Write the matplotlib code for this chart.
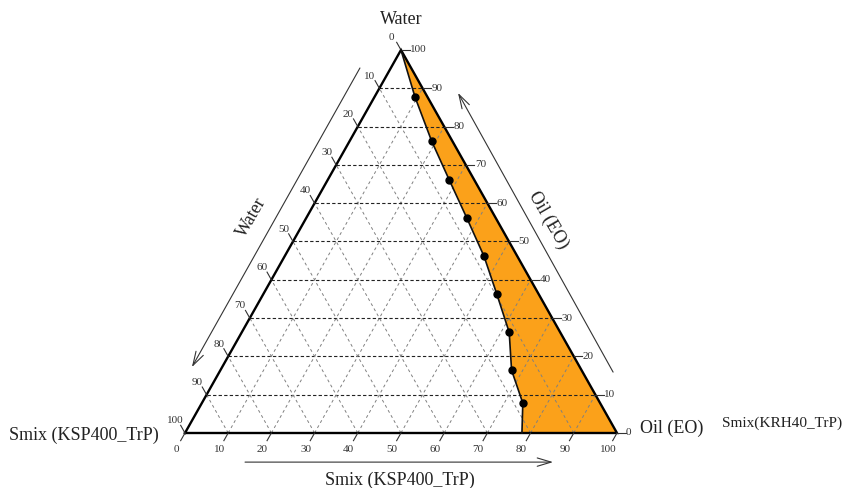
import matplotlib
matplotlib.use("Agg")
import matplotlib.pyplot as plt
import numpy as np

plt.rcParams['font.family'] = ['Liberation Serif', 'DejaVu Serif']

# phase boundary (Smix along the base, Oil on the right-hand scale)
boundary_smix = [0.0, 9.4, 19.0, 28.2, 37.2, 46.1, 54.1, 61.9, 67.4, 74.3, 78.0]
boundary_oil = [100.0, 87.7, 76.2, 66.0, 56.1, 46.2, 36.2, 26.3, 16.4, 7.8, 0.0]
ticks = list(range(0, 101, 10))

fill_color = '#FBA11A'


def cart(b, h):
    # ternary (base value, height value) -> plane coordinates
    b = np.asarray(b, dtype=float)
    h = np.asarray(h, dtype=float)
    return b + h / 2.0, h


fig = plt.figure(figsize=(8.44, 4.88), dpi=100)
ax = fig.add_axes([0, 0, 1, 1])
ax.set_xlim(-42.82, 152.55)
ax.set_ylim(-14.36, 113.05)
ax.axis('off')

# single-phase region
poly_b = boundary_smix + [100.0]
poly_h = boundary_oil + [0.0]
px, py = cart(poly_b, poly_h)
ax.fill(px, py, color=fill_color, zorder=1, lw=0)

# dashed grid
for v in ticks[1:-1]:
    x, y = cart([0, 100 - v], [v, v])
    ax.plot(x, y, color='#222222', lw=0.8, ls=(0, (3, 2)), zorder=2)
    x, y = cart([v, v], [0, 100 - v])
    ax.plot(x, y, color='#808080', lw=0.7, ls=(0, (3, 3)), zorder=2)
    x, y = cart([100 - v, 0], [0, 100 - v])
    ax.plot(x, y, color='#808080', lw=0.7, ls=(0, (3, 3)), zorder=2)

# triangle frame
x, y = cart([0, 100, 0, 0], [0, 0, 100, 0])
ax.plot(x, y, color='black', lw=1.7, zorder=4, solid_joinstyle='miter')

# boundary curve and titration points
bx, by = cart(boundary_smix, boundary_oil)
ax.plot(bx, by, color='#111111', lw=1.2, zorder=5)
ax.plot(bx[1:-1], by[1:-1], 'o', color='black', ms=5, zorder=6)

tick_kw = dict(color='#333333', lw=0.8, zorder=4)
lab_kw = dict(fontsize=8, color='#333333')
for v in ticks:
    # base ticks, along the left-side direction
    x, y = cart([v, v], [0, -2])
    ax.plot(x, y, **tick_kw)
    x, y = cart(v, -4.2)
    ax.text(x, y, str(v), ha='center', va='center', **lab_kw)
    # left ticks, along the right-side direction
    x, y = cart([0, -2], [100 - v, 100 - v + 2])
    ax.plot(x, y, **tick_kw)
    x, y = cart(-3.2, 100 - v + 3.2)
    ax.text(x - 0.6, y, str(v), ha='center', va='center', **lab_kw)
    # right ticks, horizontal
    x, y = cart([100 - v, 100 - v + 2], [v, v])
    ax.plot(x, y, **tick_kw)
    x, y = cart(100 - v + 2.1, v)
    ax.text(x, y, str(v), ha='left', va='center', **lab_kw)

arrow_kw = dict(arrowstyle='->,head_length=1.0,head_width=0.3', lw=0.8,
                color='#333333', shrinkA=0, shrinkB=0)
ax.annotate('', xy=(1.6, 17.2), xytext=(40.5, 95.3), arrowprops=arrow_kw)
ax.annotate('', xy=(63.2, 88.8), xytext=(99.1, 15.9), arrowprops=arrow_kw)
ax.annotate('', xy=(85.2, -7.6), xytext=(13.9, -7.6), arrowprops=arrow_kw)

txt_kw = dict(fontsize=13, color='#222222')
ax.text(50, 108.0, 'Water', ha='center', va='center', **txt_kw)
ax.text(15.5, 56.4, 'Water', ha='center', va='center', rotation=60, **txt_kw)
ax.text(84.0, 55.6, 'Oil (EO)', ha='center', va='center', rotation=-60, **txt_kw)
ax.text(49.8, -12.3, 'Smix (KSP400_TrP)', ha='center', va='center', **txt_kw)
ax.text(-23.4, -0.5, 'Smix (KSP400_TrP)', ha='center', va='center', **txt_kw)
ax.text(105.4, 1.3, 'Oil (EO)', ha='left', va='center', **txt_kw)
ax.text(124.3, 2.6, 'Smix(KRH40_TrP)', ha='left', va='center',
        fontsize=11, color='#222222')

fig.savefig('out.png', dpi=100)
